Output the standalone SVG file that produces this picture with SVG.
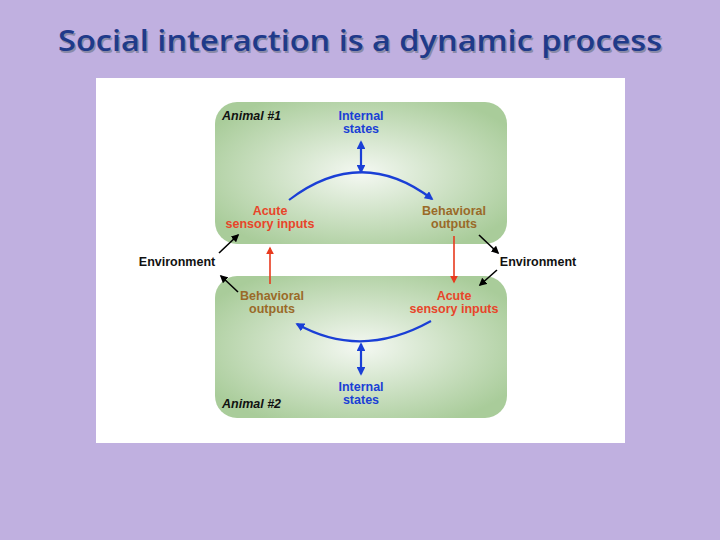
<svg xmlns="http://www.w3.org/2000/svg" width="720" height="540" viewBox="0 0 720 540">
<defs>
<radialGradient id="g" cx="0.5" cy="0.5" r="0.6"><stop offset="0" stop-color="#f4f8f2"/><stop offset="1" stop-color="#a9cc9a"/></radialGradient>
<marker id="bl" viewBox="0 0 10 10" refX="8" refY="5" markerWidth="4" markerHeight="4" orient="auto-start-reverse"><path d="M0,0L10,5L0,10z" fill="#1a3fd6"/></marker>
<marker id="rd" viewBox="0 0 10 10" refX="8" refY="5" markerWidth="5" markerHeight="5" orient="auto"><path d="M0,0L10,5L0,10z" fill="#e83a1e"/></marker>
<marker id="bk" viewBox="0 0 10 10" refX="8" refY="5" markerWidth="5" markerHeight="5" orient="auto"><path d="M0,0L10,5L0,10z" fill="#000"/></marker>
</defs>
<style>
text{font-family:"Liberation Sans",Arial,sans-serif;font-weight:bold;font-size:12.5px;text-anchor:middle}
.b{fill:#1a3fd6}.r{fill:#e8452a}.o{fill:#9a6a28}.k{fill:#111}
.an{font-style:italic;text-anchor:start;fill:#111}
.t{font-family:"Open Sans","Liberation Sans",sans-serif;font-size:29px;font-weight:600}
</style>
<rect width="720" height="540" fill="#c0b0e0"/>
<text class="t" x="361.5" y="52.5" fill="#8a8aa8" textLength="604" lengthAdjust="spacingAndGlyphs">Social interaction is a dynamic process</text>
<text class="t" x="360" y="51" fill="#1f3a8a" textLength="604" lengthAdjust="spacingAndGlyphs">Social interaction is a dynamic process</text>
<rect x="96" y="78" width="529" height="365" fill="#fff"/>
<g id="animal1"><rect x="215" y="102" width="292" height="142" rx="22" fill="url(#g)"/><text class="an" x="222" y="120">Animal #1</text></g>
<g id="animal2"><rect x="215" y="276" width="292" height="142" rx="22" fill="url(#g)"/><text class="an" x="222" y="408">Animal #2</text></g>
<g id="is1"><text class="b" x="361" y="120">Internal</text><text class="b" x="361" y="133">states</text></g>
<g id="as1"><text class="r" x="270" y="215">Acute</text><text class="r" x="270" y="228">sensory inputs</text></g>
<g id="bo1"><text class="o" x="454" y="215">Behavioral</text><text class="o" x="454" y="228">outputs</text></g>
<g id="bo2"><text class="o" x="272" y="300">Behavioral</text><text class="o" x="272" y="313">outputs</text></g>
<g id="as2"><text class="r" x="454" y="300">Acute</text><text class="r" x="454" y="313">sensory inputs</text></g>
<g id="is2"><text class="b" x="361" y="391">Internal</text><text class="b" x="361" y="404">states</text></g>
<g id="envL"><text class="k" x="177" y="266">Environment</text></g>
<g id="envR"><text class="k" x="538" y="266">Environment</text></g>
<g id="connectors" fill="none" stroke-width="2.2">
<path d="M361,142V172" stroke="#1a3fd6" marker-start="url(#bl)" marker-end="url(#bl)"/>
<path d="M289,200Q361,145 432,199" stroke="#1a3fd6" marker-end="url(#bl)"/>
<path d="M361,344V374" stroke="#1a3fd6" marker-start="url(#bl)" marker-end="url(#bl)"/>
<path d="M431,321Q361,360 297,324" stroke="#1a3fd6" marker-end="url(#bl)"/>
<path d="M270,284V248" stroke="#e83a1e" stroke-width="1.6" marker-end="url(#rd)"/>
<path d="M454,236V282" stroke="#e83a1e" stroke-width="1.6" marker-end="url(#rd)"/>
<path d="M219,253L238,235" stroke="#000" stroke-width="1.6" marker-end="url(#bk)"/>
<path d="M238,292L221,276" stroke="#000" stroke-width="1.6" marker-end="url(#bk)"/>
<path d="M479,235L498,253" stroke="#000" stroke-width="1.6" marker-end="url(#bk)"/>
<path d="M497,270L480,285" stroke="#000" stroke-width="1.6" marker-end="url(#bk)"/>
</g>
</svg>
